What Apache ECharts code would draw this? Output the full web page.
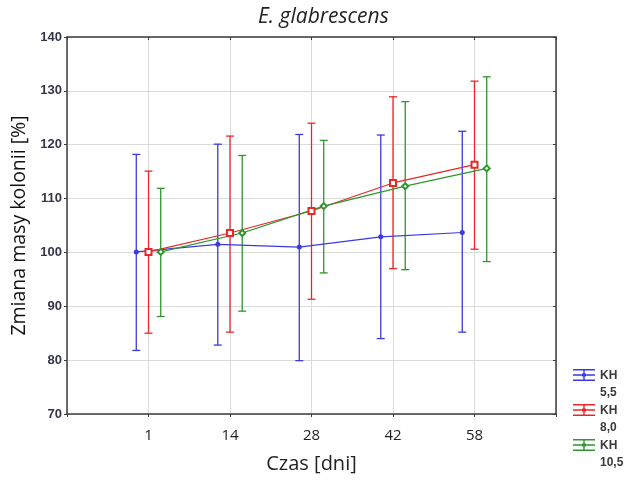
<!DOCTYPE html>
<html>
<head>
<meta charset="utf-8">
<script src="https://cdn.jsdelivr.net/npm/echarts@6/dist/echarts.min.js"></script>
<style>
  html, body { margin: 0; padding: 0; background: #fff; }
  #chart { width: 631px; height: 486px; }
</style>
</head>
<body>
<div id="chart"></div>
<script>
// Sampling days (categories on the x axis)
const days = ['1', '14', '28', '42', '58'];

// Group names
const groupNames = ['KH 5,5', 'KH 8,0', 'KH 10,5'];
const groupColors = ['#3a3ae0', '#e82828', '#2e962e'];

// Mean colony mass change [%] per day
const meanKH55  = [100.1, 101.5, 101.0, 102.9, 103.7];
const meanKH80  = [100.1, 103.6, 107.7, 112.9, 116.3];
const meanKH105 = [100.1, 103.6, 108.6, 112.3, 115.6];

// Lower / upper whisker ends
const lowKH55   = [81.8, 82.8, 79.9, 84.0, 85.2];
const highKH55  = [118.2, 120.1, 121.9, 121.8, 122.5];
const lowKH80   = [85.0, 85.2, 91.3, 97.0, 100.6];
const highKH80  = [115.1, 121.6, 124.0, 128.9, 131.8];
const lowKH105  = [88.1, 89.1, 96.2, 96.8, 98.3];
const highKH105 = [111.9, 118.0, 120.8, 128.0, 132.6];

const means = [meanKH55, meanKH80, meanKH105];
const lows = [lowKH55, lowKH80, lowKH105];
const highs = [highKH55, highKH80, highKH105];
const symbols = ['circle', 'emptyRect', 'emptyDiamond'];
const symbolSizes = [5, 6, 6];
const offsets = [-0.15, 0, 0.15];   // horizontal dodge of the three groups

const series = [];
groupNames.forEach((name, g) => {
  const color = groupColors[g];
  // whiskers
  series.push({
    name: name,
    type: 'custom',
    xAxisIndex: 0,
    yAxisIndex: 0,
    z: 2,
    data: days.map((d, i) => [i + 1 + offsets[g], lows[g][i], highs[g][i]]),
    encode: { x: 0, y: [1, 2] },
    renderItem: function (params, api) {
      const x = api.value(0);
      const lo = api.coord([x, api.value(1)]);
      const hi = api.coord([x, api.value(2)]);
      const cap = 4;
      const st = { stroke: color, lineWidth: 1.3, fill: null };
      return {
        type: 'group',
        children: [
          { type: 'line', shape: { x1: lo[0], y1: lo[1], x2: hi[0], y2: hi[1] }, style: st },
          { type: 'line', shape: { x1: hi[0] - cap, y1: hi[1], x2: hi[0] + cap, y2: hi[1] }, style: st },
          { type: 'line', shape: { x1: lo[0] - cap, y1: lo[1], x2: lo[0] + cap, y2: lo[1] }, style: st }
        ]
      };
    }
  });
  // means joined by a line
  series.push({
    name: name,
    type: 'line',
    xAxisIndex: 0,
    yAxisIndex: 0,
    z: 3,
    data: days.map((d, i) => [i + 1 + offsets[g], means[g][i]]),
    symbol: symbols[g],
    symbolSize: symbolSizes[g],
    showSymbol: true,
    itemStyle: { color: color, borderWidth: 1.2 },
    lineStyle: { color: color, width: 1.2 },
    emphasis: { disabled: true },
    animation: false
  });
});

// legend icon: horizontal whisker glyph sitting on the first text line
const legendIcon = 'path://M0,0h22v1.4h-22z M0,5.3h22v1.4h-22z M0,10.6h22v1.4h-22z M10.3,0h1.4v12h-1.4z M9,4.5h4v3h-4z M0,30h0.01v0.01h-0.01z';

const chart = echarts.init(document.getElementById('chart'), null, { renderer: 'canvas' });
chart.setOption({
  backgroundColor: '#ffffff',
  animation: false,
  title: {
    text: 'E. glabrescens',
    left: 253,
    top: 2,
    textStyle: { fontFamily: 'Open Sans', fontStyle: 'italic', fontWeight: 'normal', fontSize: 21, color: '#222' }
  },
  grid: { left: 67, right: 75, top: 37, bottom: 72, containLabel: false },
  legend: {
    orient: 'vertical',
    left: 568,
    top: 362,
    itemWidth: 22,
    itemHeight: 30,
    itemGap: 1,
    selectedMode: false,
    itemStyle: { borderWidth: 0 },
    formatter: n => n.replace(' ', '\n'),
    textStyle: { fontFamily: 'Liberation Sans', fontWeight: 'bold', fontSize: 12, color: '#3a3a3a', lineHeight: 17 },
    data: groupNames.map((n, g) => ({ name: n, icon: legendIcon, itemStyle: { color: groupColors[g], borderWidth: 0 } }))
  },
  xAxis: [{
    type: 'value',
    min: 0, max: 6, interval: 1,
    name: 'Czas [dni]',
    nameLocation: 'middle',
    nameGap: 40,
    nameTextStyle: { fontFamily: 'Open Sans', fontSize: 20, color: '#222' },
    axisLine: { show: true, onZero: false, lineStyle: { color: '#3c3c3c', width: 1.5 } },
    axisTick: { show: true, inside: false, length: 3, lineStyle: { color: '#3c3c3c' } },
    axisLabel: {
      margin: 14,
      fontFamily: 'Open Sans', fontSize: 15, color: '#222',
      formatter: v => days[v - 1] || ''
    },
    splitLine: { show: true, lineStyle: { color: '#dadada', width: 1 } }
  }, {
    type: 'value',
    position: 'top',
    min: 0, max: 6, interval: 1,
    axisLine: { show: true, onZero: false, lineStyle: { color: '#3c3c3c', width: 1.5 } },
    axisTick: { show: true, inside: true, length: 3, lineStyle: { color: '#3c3c3c' } },
    axisLabel: { show: false },
    splitLine: { show: false }
  }],
  yAxis: [{
    type: 'value',
    min: 70, max: 140, interval: 10,
    name: 'Zmiana masy kolonii [%]',
    nameLocation: 'middle',
    nameGap: 33,
    nameRotate: 90,
    nameTextStyle: { fontFamily: 'Open Sans', fontSize: 19.5, color: '#111' },
    axisLine: { show: true, onZero: false, lineStyle: { color: '#3c3c3c', width: 1.5 } },
    axisTick: { show: true, inside: false, length: 3, lineStyle: { color: '#3c3c3c' } },
    axisLabel: { margin: 5, fontFamily: 'Liberation Sans', fontWeight: 'bold', fontSize: 13, color: '#35354a' },
    splitLine: { show: true, lineStyle: { color: '#dadada', width: 1 } }
  }, {
    type: 'value',
    position: 'right',
    min: 70, max: 140, interval: 10,
    axisLine: { show: true, onZero: false, lineStyle: { color: '#3c3c3c', width: 1.5 } },
    axisTick: { show: true, inside: true, length: 3, lineStyle: { color: '#3c3c3c' } },
    axisLabel: { show: false },
    splitLine: { show: false }
  }],
  series: series
});
</script>
</body>
</html>
